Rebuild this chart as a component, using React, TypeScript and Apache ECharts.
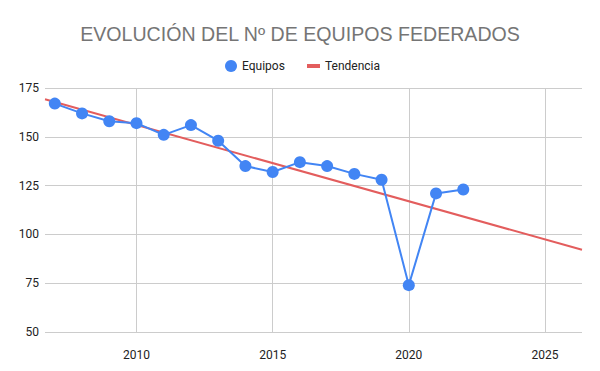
import React, { useEffect, useRef } from "react";
import * as echarts from "echarts";

const years = [2007, 2008, 2009, 2010, 2011, 2012, 2013, 2014, 2015, 2016, 2017, 2018, 2019, 2020, 2021, 2022];
const equipos = [167, 162, 158, 157, 151, 156, 148, 135, 132, 137, 135, 131, 128, 74, 121, 123];
const trendX = [2006.64, 2026.36];
const trendY = [169.2, 92.1];
const xTicks = [2010, 2015, 2020, 2025];

const FONT = "Roboto, 'Liberation Sans', Arial, sans-serif";

export default function App() {
  const ref = useRef<HTMLDivElement>(null);
  useEffect(() => {
    if (!ref.current) return;
    const chart = echarts.init(ref.current, null, { renderer: "svg" });
    chart.setOption({
      animation: false,
      backgroundColor: "#ffffff",
      title: {
        text: "EVOLUCIÓN DEL Nº DE EQUIPOS FEDERADOS",
        left: "center",
        top: 19,
        textStyle: { color: "#757575", fontSize: 19.6, fontWeight: "normal", fontFamily: "'Liberation Sans', Arial, sans-serif" },
      },
      legend: [
        {
          data: [{ name: "Equipos", icon: "circle" }],
          left: 220,
          top: 55,
          itemWidth: 12,
          itemHeight: 12,
          itemGap: 0,
          textStyle: { color: "#222", fontSize: 12, fontFamily: FONT },
          selectedMode: false,
        },
        {
          data: [{ name: "Tendencia", icon: "rect" }],
          left: 302,
          top: 55,
          itemWidth: 13,
          itemHeight: 4,
          textStyle: { color: "#222", fontSize: 12, fontFamily: FONT },
          selectedMode: false,
        },
      ],
      grid: { left: 45, right: 18, top: 88, bottom: 39, containLabel: false },
      xAxis: {
        type: "value",
        min: trendX[0],
        max: trendX[1],
        axisLine: { show: false },
        axisTick: { show: false, customValues: xTicks },
        axisLabel: {
          customValues: xTicks,
          formatter: (v: number) => String(Math.round(v)),
          color: "#222",
          fontSize: 12,
          fontFamily: FONT,
          margin: 17,
        },
        splitLine: { show: true, lineStyle: { color: "#cccccc", width: 1 } },
      },
      yAxis: {
        type: "value",
        min: 50,
        max: 175,
        interval: 25,
        axisLine: { show: false },
        axisTick: { show: false },
        axisLabel: { color: "#222", fontSize: 12, fontFamily: FONT, margin: 6 },
        splitLine: { show: true, lineStyle: { color: "#cccccc", width: 1 } },
      },
      series: [
        {
          name: "Tendencia",
          type: "line",
          data: trendX.map((x, i) => [x, trendY[i]]),
          showSymbol: false,
          symbol: "none",
          lineStyle: { color: "#e35d5d", width: 2 },
          itemStyle: { color: "#e35d5d" },
          z: 2,
        },
        {
          name: "Equipos",
          type: "line",
          data: years.map((y, i) => [y, equipos[i]]),
          symbol: "circle",
          symbolSize: 12,
          lineStyle: { color: "#4285f4", width: 2 },
          itemStyle: { color: "#4285f4" },
          z: 3,
        },
      ],
    });
    return () => chart.dispose();
  }, []);
  return <div ref={ref} style={{ width: 600, height: 371, position: "absolute", left: 0, top: 0 }} />;
}
